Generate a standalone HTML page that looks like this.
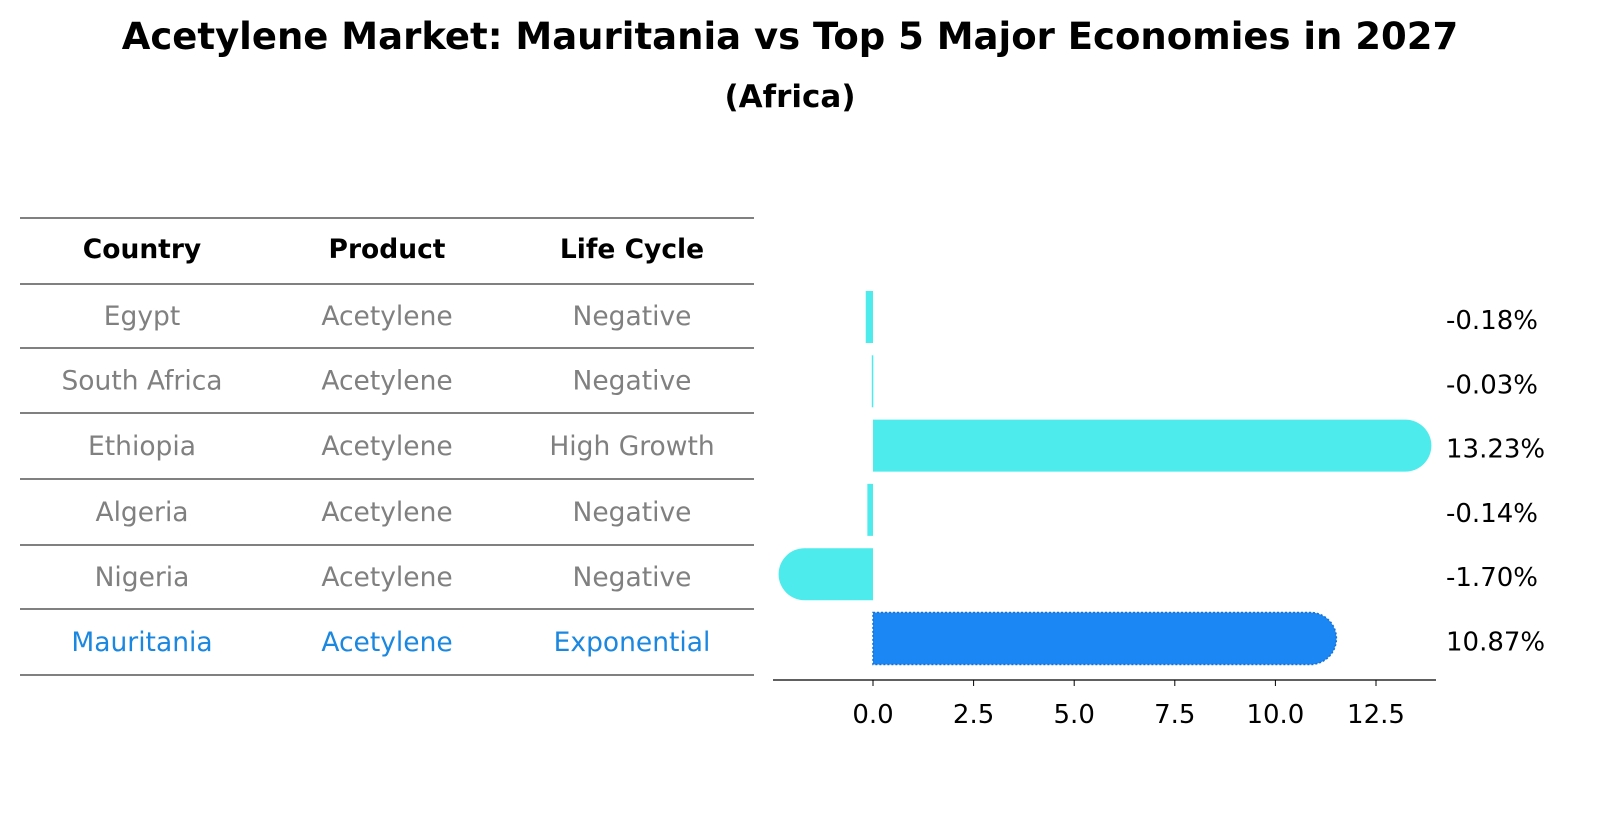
<!DOCTYPE html>
<html><head><meta charset="utf-8"><style>
body{margin:0;background:#fff;font-family:"Liberation Sans","DejaVu Sans",sans-serif}
#wrap{position:relative;width:1604px;height:823px;overflow:hidden}
</style></head><body>
<div id="wrap">
<svg id="svg" width="1604" height="823" xmlns="http://www.w3.org/2000/svg" font-family="'DejaVu Sans', 'Liberation Sans', sans-serif">
<text x="790" y="49" text-anchor="middle" font-size="37" font-weight="bold">Acetylene Market: Mauritania vs Top 5 Major Economies in 2027</text>
<text x="790" y="107" text-anchor="middle" font-size="31" font-weight="bold">(Africa)</text>
<g id="table"></g>
<g id="bars"></g>
</svg>
</div>
<script>
const countries=["Egypt","South Africa","Ethiopia","Algeria","Nigeria","Mauritania"];
const products=["Acetylene","Acetylene","Acetylene","Acetylene","Acetylene","Acetylene"];
const lifeCycles=["Negative","Negative","High Growth","Negative","Negative","Exponential"];
const values=[-0.18,-0.03,13.23,-0.14,-1.70,10.87];
const tickValues=[0,2.5,5,7.5,10,12.5];
const tickLabels=["0.0","2.5","5.0","7.5","10.0","12.5"];

const NS="http://www.w3.org/2000/svg";
function mk(tag,attrs,parent){const e=document.createElementNS(NS,tag);for(const k in attrs)e.setAttribute(k,attrs[k]);parent.appendChild(e);return e;}
const tbl=document.getElementById('table');
const lineYs=[218,284,348,413,479,545,609,675];
lineYs.forEach((y,i)=>{const l=mk('line',{x1:20,x2:754,y1:y,y2:y,stroke:'#000','stroke-width':1},tbl);

});
const colX=[142,387,632];
["Country","Product","Life Cycle"].forEach((h,i)=>{const t=mk('text',{x:colX[i],y:258,'text-anchor':'middle','font-size':26.5,'font-weight':'bold'},tbl);t.textContent=h;

});
countries.forEach((c,r)=>{const y=(lineYs[r+1]+lineYs[r+2])/2+9;const col=r===countries.length-1?'#1a87e0':'#808080';
[c,products[r],lifeCycles[r]].forEach((v,i)=>{const t=mk('text',{x:colX[i],y:y,'text-anchor':'middle','font-size':26.5,fill:col},tbl);t.textContent=v;

});});

const g=document.getElementById('bars');
const x0=873,scale=(1376-873)/12.5;
const X=v=>x0+v*scale;
const rowY=r=>317+r*64.3;
const bh=52;
values.forEach((v,r)=>{const cy=rowY(r);const last=r===values.length-1;const fill=last?'#1a87f5':'#4debeb';
const xa=Math.min(X(0),X(v)),xb=Math.max(X(0),X(v));const w=Math.max(xb-xa,1.5);
let d;
if(Math.abs(v)>1){const rr=bh/2;
 if(v>0)d=`M${xa},${cy-rr}H${xb}A${rr},${rr} 0 0 1 ${xb},${cy+rr}H${xa}Z`;
 else d=`M${xb},${cy-rr}H${xa}A${rr},${rr} 0 0 0 ${xa},${cy+rr}H${xb}Z`;}
else d=`M${xa},${cy-bh/2}h${w}v${bh}h${-w}Z`;
const p=mk('path',{d:d,fill:fill},g);
if(last){p.setAttribute('stroke','#1a6fd0');p.setAttribute('stroke-dasharray','2,2');p.setAttribute('stroke-width','1.5');}


const t=mk('text',{x:1446,y:cy+12,'font-size':26},g);t.textContent=v.toFixed(2)+'%';

});
const ax=mk('line',{x1:773,x2:1436,y1:680,y2:680,stroke:'#000','stroke-width':1.2},g);


tickValues.forEach((v,i)=>{const tk=mk('line',{x1:X(v),x2:X(v),y1:680,y2:686,stroke:'#000'},g);


const t=mk('text',{x:X(v),y:723,'text-anchor':'middle','font-size':26},g);t.textContent=tickLabels[i];

});
</script>
</body></html>
